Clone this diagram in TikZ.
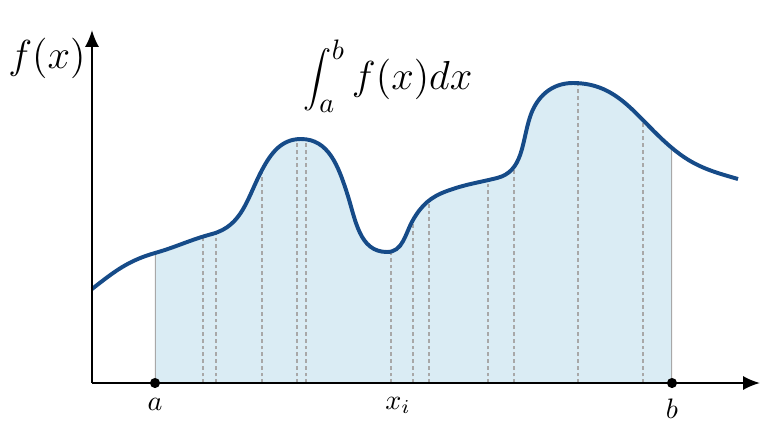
\documentclass[tikz,border=0pt]{standalone}
\usetikzlibrary{arrows.meta,positioning}
\definecolor{areablue}{HTML}{DAECF4}
\definecolor{curveblue}{HTML}{164B88}
\definecolor{stripgray}{HTML}{A8A8A8}

\tikzset{
  axis/.style={line width=0.7pt,-{Latex[length=6pt,width=5pt]}},
  sample/.style={stripgray,line width=0.7pt,dash pattern=on 1.3pt off 1.1pt},
  bound/.style={stripgray,line width=0.8pt},
  dot/.style={circle,fill=black,inner sep=0pt,minimum size=3.6pt},
}

\begin{document}
\begin{tikzpicture}[x=0.0125cm,y=0.0125cm]
  \useasboundingbox (-92,-37) rectangle (692,383);
  \def\curve{(0,94) to[out=38,in=196] (63,130) to[out=16,in=195] (120,149)
    to[out=15,in=242] (170,213) to[out=62,in=180] (209,244)
    to[out=0,in=108] (255,190) to[out=-72,in=180] (295,131)
    to[out=0,in=240] (321,163) to[out=60,in=200] (355,192)
    to[out=20,in=194] (405,205) to[out=14,in=252] (438,266)
    to[out=72,in=180] (481,300) to[out=0,in=140] (580,235)
    to[out=-40,in=164] (646,204)}
  % Area between a and b
  \begin{scope}
    \clip (63,0) rectangle (580,400);
    \clip \curve -- (646,0) -- (0,0) -- cycle;
    \fill[areablue] (63,0) rectangle (580,400);
    \foreach \xs in {111,124,170,205,214,299,321,337,396,422,486,551}
      \draw[sample] (\xs,0) -- (\xs,400);
    \draw[bound] (63,0) -- (63,400) (580,0) -- (580,400);
  \end{scope}
  % Curve
  \draw[curveblue,line width=1.4pt] \curve;
  % Axes
  \coordinate (o) at (0,0);
  \coordinate (xend) at (668,0);
  \coordinate (yend) at (0,353);
  \draw[axis] (o) -- (xend);
  \draw[axis] (o) -- (yend);
  % Limits
  \node[dot] (a) at (63,0) {};
  \node[dot] (b) at (580,0) {};
  \node[below=0pt of a] (alabel) {$a$};
  \node[below=0pt of b] (blabel) {$b$};
  \node[below=1.5pt] (xi) at (306,0) {$x_i$};
  % Labels
  \node[font=\Large] (fx) at (-45,325) {$f(x)$};
  \node[font=\Large] (integral) at (296,307) {$\displaystyle\int_a^b f(x)dx$};
\end{tikzpicture}
\end{document}
